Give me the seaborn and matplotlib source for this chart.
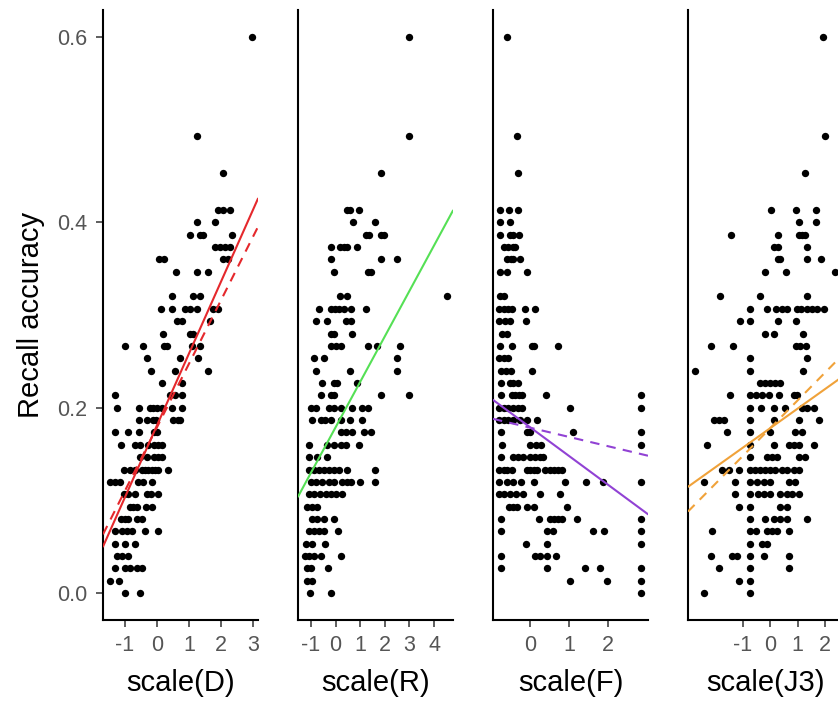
import numpy as np
import pandas as pd
import matplotlib
matplotlib.use("Agg")
import matplotlib.pyplot as plt
import seaborn as sns

# Recall accuracy is hits out of 75 items; each dict maps hits -> x values (scaled predictor)
D_ROWS = {
    45: [2.96], 37: [1.26], 34: [2.05], 31: [1.92, 2.05, 2.28], 30: [1.26, 1.81],
    29: [1.03, 1.34, 1.45, 2.35], 28: [1.81, 1.97, 2.13, 2.28], 27: [0.07, 0.22, 2.07, 2.21],
    26: [0.59, 1.26, 1.6], 24: [0.46, 1.13, 1.34], 23: [0.13, 0.46, 0.88, 1.03, 1.24, 1.76, 1.92],
    22: [0.61, 0.77, 1.66], 21: [0.2, 1.03, 1.13], 20: [-1.0, -0.43, 0.22, 0.3, 1.08, 1.34],
    19: [-0.32, 0.72, 1.27], 18: [-0.19, 0.56, 1.6], 17: [0.15, 0.77], 16: [-1.33, 0.41, 0.56, 0.77],
    15: [-1.24, -0.55, -0.22, -0.11, -0.01, 0.15, 0.46, 0.77],
    14: [-0.55, -0.32, -0.13, -0.03, 0.51, 0.67, 0.72], 13: [-1.33, -0.9, -0.55, -0.09, -0.01],
    12: [-1.13, -0.69, -0.53, -0.27, -0.09, 0.04, 0.17], 11: [-0.53, -0.32, -0.09, 0.04, 0.17],
    10: [-1.03, -0.84, -0.69, -0.48, -0.38, -0.27, -0.17, -0.06, 0.04, 0.35],
    9: [-1.47, -1.31, -1.16, -0.58, -0.43, -0.17], 8: [-1.03, -0.9, -0.69, -0.32, -0.2, 0.04],
    7: [-0.84, -0.74, -0.63, -0.34, -0.17], 6: [-1.13, -1.0, -0.9, -0.63, -0.48],
    5: [-1.31, -1.1, -0.95, -0.79, -0.38, 0.04], 4: [-1.31, -1.0, -0.69], 3: [-1.26, -1.1, -0.9],
    2: [-1.33, -1.0, -0.84, -0.63, -0.48], 1: [-1.47, -1.2], 0: [-1.0, -0.53],
}
R_ROWS = {
    45: [2.98], 37: [2.98], 34: [1.83], 31: [0.47, 0.58, 0.95], 30: [0.72, 1.6],
    29: [1.22, 1.35, 1.83, 1.96], 28: [-0.2, 0.17, 0.34, 0.48, 0.85], 27: [-0.2, 1.83, 2.48],
    26: [-0.07, 1.31, 1.45], 24: [0.17, 0.48, 4.54], 23: [-0.68, -0.2, -0.04, 0.14, 0.34, 0.61, 1.22],
    22: [-0.81, -0.34, 0.41, 0.61], 21: [-0.2, -0.07, 0.68], 20: [-0.2, 0.0, 0.2, 1.31, 1.69, 2.61],
    19: [-0.88, -0.48, 2.48], 18: [-0.81, 0.58, 2.48], 17: [-0.54, -0.07, 0.07, 0.85],
    16: [-0.61, -0.2, -0.07, 1.83, 2.98], 15: [-1.02, -0.81, -0.27, -0.07, 0.2, 0.68, 1.08, 1.31],
    14: [-0.95, -0.61, -0.45, -0.2, 0.2, 0.58, 1.08], 13: [0.2, 0.41, 0.68, 1.15, 1.42],
    12: [-1.08, -0.34, -0.07, 0.2, 0.41, 0.95], 11: [-1.08, -0.74, -0.34],
    10: [-1.08, -0.88, -0.68, -0.48, -0.27, -0.07, 0.14, 0.47, 1.6],
    9: [-1.02, -0.81, -0.54, -0.27, -0.07, 0.27, 0.48, 0.61, 0.99, 1.6],
    8: [-1.08, -0.88, -0.64, -0.41, -0.2, 0.0, 0.27], 7: [-1.15, -0.95, -0.74],
    6: [-0.95, -0.74, -0.48, -0.07], 5: [-1.08, -0.88, -0.68, -0.48, 0.09], 4: [-1.22, -0.95, -0.45],
    3: [-1.26, -1.08, -0.88, -0.61, 0.2], 2: [-1.18, -1.02, -0.31], 1: [-1.15, -0.95], 0: [-1.05, -0.18],
}
F_ROWS = {
    45: [-0.6], 37: [-0.33], 34: [-0.3], 31: [-0.77, -0.53, -0.3], 30: [-0.77, -0.52],
    29: [-0.77, -0.51, -0.43, -0.27], 28: [-0.68, -0.56, -0.44, -0.38], 27: [-0.6, -0.5, -0.43, -0.26],
    26: [-0.77, -0.6, -0.08], 24: [-0.76, -0.68], 23: [-0.79, -0.68, -0.56, -0.47, -0.13, 0.13],
    22: [-0.79, -0.64, -0.51, -0.1], 21: [-0.73, -0.6], 20: [-0.77, -0.47, 0.04, 0.1, 0.73],
    19: [-0.79, -0.68, -0.56], 18: [-0.75, -0.62, -0.5, 0.04], 17: [-0.75, -0.51, -0.43, -0.3],
    16: [-0.75, -0.47, -0.38, -0.27, -0.21, 0.41, 2.86],
    15: [-0.79, -0.68, -0.56, -0.43, -0.3, -0.21, 1.03, 2.86],
    14: [-0.79, -0.68, -0.56, -0.43, -0.26, -0.08, 0.19], 13: [-0.75, -0.08, 0.0, 1.11, 2.86],
    12: [-0.73, 0.0, 0.15, 0.27, 2.86], 11: [-0.75, -0.44, -0.3, -0.17, 0.0, 0.13, 0.26, 0.34],
    10: [-0.79, -0.68, -0.58, -0.47, -0.08, 0.0, 0.09, 0.17, 0.38, 0.51, 0.62, 0.73, 0.81],
    9: [-0.79, -0.6, -0.43, -0.24, 0.09, 0.9, 1.44, 1.88, 2.86],
    8: [-0.79, -0.67, -0.51, -0.36, -0.17, 0.26, 0.77], 7: [-0.53, -0.43, -0.34, -0.08, 0.09, 0.94],
    6: [-0.75, 0.24, 0.51, 0.62, 0.73, 0.81, 1.2, 2.86], 5: [-0.75, 0.43, 0.6, 1.62, 1.9, 2.86],
    4: [-0.1, 0.43, 2.86], 3: [-0.75, 0.13, 0.26, 0.43, 0.68], 2: [-0.75, 0.43, 1.41, 1.79, 2.86],
    1: [1.03, 1.97, 2.86], 0: [2.86],
}
J3_ROWS = {
    45: [1.92], 37: [2.0], 34: [1.27], 31: [0.04, 0.95, 1.67], 30: [1.03, 1.67],
    29: [-1.43, 0.27, 1.03, 1.15, 1.27], 28: [0.12, 0.27, 1.33], 27: [0.27, 0.36, 1.33, 1.84],
    26: [-0.21, 0.58, 2.36], 24: [-1.82, -0.39, 1.33],
    23: [-0.73, -0.12, 0.22, 0.42, 0.61, 0.97, 1.12, 1.33, 1.52, 1.7, 1.96],
    22: [-1.12, -0.73, 0.27, 0.95], 21: [-0.18, 0.12, 1.19], 20: [-2.16, -1.36, 0.95, 1.09, 1.31],
    19: [-0.73, 1.33], 18: [-2.73, -0.73, 1.19], 17: [-0.36, -0.18, 0.0, 0.18, 0.36],
    16: [-1.48, -0.73, -0.51, -0.3, -0.06, 0.3, 0.85, 0.97],
    15: [-0.73, -0.34, 0.12, 0.55, 1.15, 1.33, 1.58],
    14: [-2.06, -1.88, -1.7, -0.73, 0.12, 1.03, 1.79], 13: [-1.58, -0.73, 0.0, 0.91, 1.15],
    12: [-2.3, -0.73, 0.12, 0.67, 0.85, 1.03, 1.58], 11: [-0.73, -0.12, 0.06, 0.24, 1.03, 1.27],
    10: [-1.76, -1.52, -1.15, -0.73, -0.55, -0.36, -0.18, 0.0, 0.18, 0.42, 0.61, 0.85, 1.03],
    9: [-2.42, -1.27, -0.73, -0.48, -0.24, 0.0, 0.67, 0.91],
    8: [-1.27, -0.73, -0.46, -0.24, 0.0, 0.36, 0.61, 0.79, 1.03], 7: [-1.15, -0.73, 0.36, 0.61],
    6: [-0.73, -0.18, 0.12, 0.36, 0.61, 1.33], 5: [-2.12, -0.73, -0.51, -0.12, 0.06, 0.24, 0.67],
    4: [-0.73, -0.3, -0.12], 3: [-2.16, -1.39, -1.21, -0.73, -0.24, 0.67], 2: [-1.88, -0.73, 0.67],
    1: [-1.15, -0.73], 0: [-2.42, -0.73],
}
N_ITEMS = 75

panel_labels = ["scale(D)", "scale(R)", "scale(F)", "scale(J3)"]
panel_rows = [D_ROWS, R_ROWS, F_ROWS, J3_ROWS]
line_colors = ["#e5282c", "#55e055", "#9142d4", "#f0a23a"]

# fitted lines: intercept, slope (solid = fit, dashed = second model)
solid_intercept = [0.181, 0.179, 0.179, 0.178]
solid_slope = [0.0774, 0.049, -0.031, 0.0211]
dashed_intercept = [0.179, None, 0.1785, 0.178]
dashed_slope = [0.0684, None, -0.010, 0.030]

x_limits = [(-1.69, 3.16), (-1.53, 4.77), (-0.95, 3.03), (-3.0, 2.65)]
x_ticks = [[-1, 0, 1, 2, 3], [-1, 0, 1, 2, 3, 4], [0, 1, 2], [-1, 0, 1, 2]]
y_ticks = [0.0, 0.2, 0.4, 0.6]


def rows_to_frame(rows):
    xs, ys = [], []
    for hits, vals in rows.items():
        for v in vals:
            xs.append(v)
            ys.append(hits / N_ITEMS)
    return pd.DataFrame({"x": xs, "acc": ys})


sns.set_style("ticks")
plt.rcParams["font.family"] = ["Liberation Sans", "DejaVu Sans"]
plt.rcParams["axes.unicode_minus"] = False

W, H = 838, 704
fig = plt.figure(figsize=(W / 100, H / 100), dpi=100)

for i in range(4):
    left = 103 + 195 * i
    ax = fig.add_axes([left / W, (H - 620) / H, 155 / W, 610 / H])

    df = rows_to_frame(panel_rows[i])
    sns.scatterplot(data=df, x="x", y="acc", ax=ax, color="black",
                    s=28, linewidth=0, zorder=2)

    xmin, xmax = x_limits[i]
    xx = np.array([xmin, xmax])
    line_df = pd.DataFrame({"x": xx, "acc": solid_intercept[i] + solid_slope[i] * xx})
    sns.lineplot(data=line_df, x="x", y="acc", ax=ax, color=line_colors[i],
                 linewidth=1.5, zorder=3)
    if dashed_slope[i] is not None:
        dash_df = pd.DataFrame({"x": xx, "acc": dashed_intercept[i] + dashed_slope[i] * xx})
        sns.lineplot(data=dash_df, x="x", y="acc", ax=ax, color=line_colors[i],
                     linewidth=1.5, zorder=3, dashes=False, linestyle=(0, (4.5, 3.5)))

    ax.set_xlim(xmin, xmax)
    ax.set_ylim(-0.029, 0.629)
    ax.set_xticks(x_ticks[i])
    ax.set_xticklabels([str(t) for t in x_ticks[i]])
    ax.set_xlabel(panel_labels[i], fontsize=21, color="black", labelpad=9)

    for side in ["top", "right"]:
        ax.spines[side].set_visible(False)
    for side in ["left", "bottom"]:
        ax.spines[side].set_color("black")
        ax.spines[side].set_linewidth(1.5)

    ax.tick_params(axis="x", length=5, width=1.1, color="#333333",
                   labelsize=15.5, labelcolor="#555555", pad=6)
    if i == 0:
        ax.set_yticks(y_ticks)
        ax.set_yticklabels(["0.0", "0.2", "0.4", "0.6"])
        ax.tick_params(axis="y", length=5, width=1.1, color="#333333",
                       labelsize=15.5, labelcolor="#555555", pad=6)
        ax.set_ylabel("Recall accuracy", fontsize=21, color="black", labelpad=9)
    else:
        ax.set_yticks([])
        ax.set_ylabel("")

fig.savefig("out.png", dpi=100)
